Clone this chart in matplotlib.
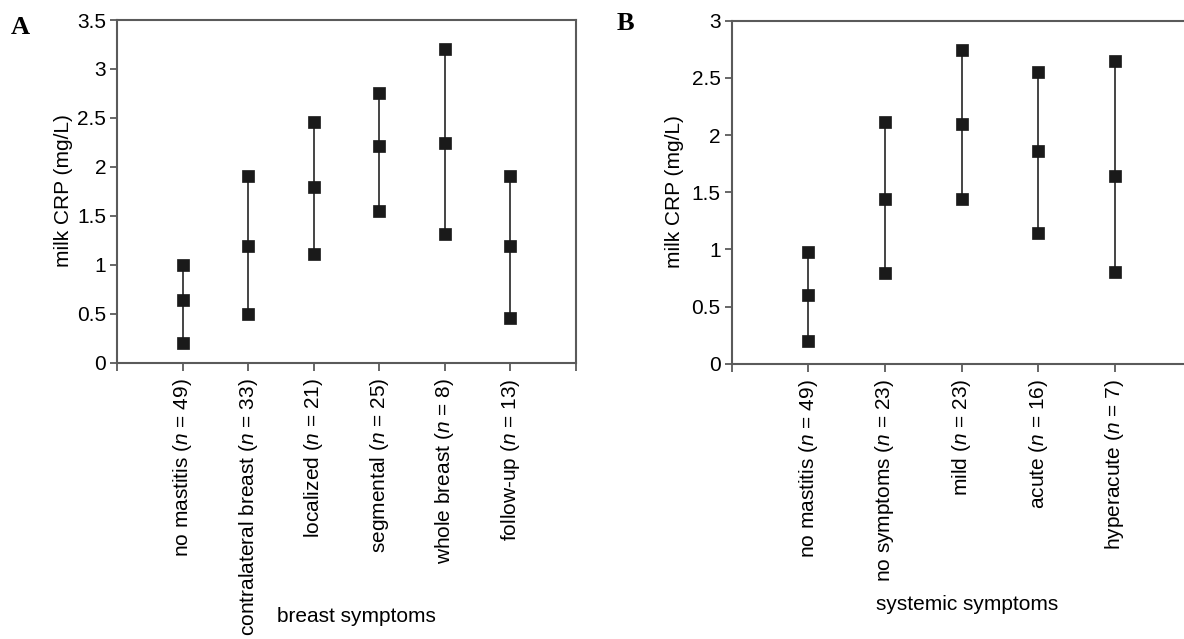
import matplotlib
matplotlib.use("Agg")
import matplotlib.pyplot as plt
from matplotlib.ticker import FuncFormatter

# ---- data ----
cats_a = ["no mastitis", "contralateral breast", "localized", "segmental", "whole breast", "follow-up"]
n_a = [49, 33, 21, 25, 8, 13]
low_a = [0.20, 0.50, 1.11, 1.55, 1.31, 0.46]
mid_a = [0.64, 1.19, 1.79, 2.21, 2.24, 1.19]
high_a = [1.00, 1.91, 2.46, 2.75, 3.20, 1.91]

cats_b = ["no mastitis", "no symptoms", "mild", "acute", "hyperacute"]
n_b = [49, 23, 23, 16, 7]
low_b = [0.20, 0.79, 1.44, 1.14, 0.80]
mid_b = [0.60, 1.44, 2.10, 1.86, 1.64]
high_b = [0.98, 2.11, 2.74, 2.55, 2.65]

yticks_a = [0, 0.5, 1, 1.5, 2, 2.5, 3, 3.5]
yticks_b = [0, 0.5, 1, 1.5, 2, 2.5, 3]

plt.rcParams['font.family'] = ['Liberation Sans', 'DejaVu Sans']
plt.rcParams['mathtext.fontset'] = 'custom'
plt.rcParams['mathtext.it'] = 'Liberation Sans:italic'
plt.rcParams['mathtext.rm'] = 'Liberation Sans'
plt.rcParams['font.size'] = 15

W, H = 1184, 639
fig = plt.figure(figsize=(W / 100, H / 100), dpi=100)

spine_col = '#5a5a5a'
line_col = '#444444'
mk_col = '#1a1a1a'


def panel(rect, cats, ns, low, mid, high, yticks, ymax, xlabel, xlab_pos, letter, letter_pos, ylab_xy):
    ax = fig.add_axes(rect)
    x = list(range(1, len(cats) + 1))
    for xi, lo, mi, hi in zip(x, low, mid, high):
        ax.plot([xi, xi], [lo, hi], color=line_col, lw=1.4, zorder=2)
        ax.plot([xi, xi, xi], [lo, mi, hi], ls='none', marker='s', ms=9,
                mfc=mk_col, mec=mk_col, mew=0.5, zorder=3)
    ax.set_xlim(0, len(cats) + 1)
    ax.set_ylim(0, ymax)
    ax.set_yticks(yticks)
    ax.yaxis.set_major_formatter(FuncFormatter(lambda v, p: f"{v:g}"))
    ax.set_xticks(x)
    ax.set_xticklabels([f"{c} ($n$ = {n})" for c, n in zip(cats, ns)], rotation=90,
                       va='top', ha='center')
    ax.set_xticks([0, len(cats) + 1], minor=True)
    ax.tick_params(axis='x', which='both', direction='out', length=6, width=1.3,
                   color=spine_col, pad=5)
    ax.tick_params(axis='y', direction='out', length=5, width=1.3, color=spine_col, pad=3)
    for s in ax.spines.values():
        s.set_color(spine_col)
        s.set_linewidth(1.5)
    ax.set_ylabel("milk CRP (mg/L)")
    ax.yaxis.set_label_coords(ylab_xy[0] / W, 1 - ylab_xy[1] / H, transform=fig.transFigure)
    fig.text(xlab_pos[0] / W, 1 - xlab_pos[1] / H, xlabel, ha='center', va='center', fontsize=15)
    fig.text(letter_pos[0] / W, 1 - letter_pos[1] / H, letter, ha='center', va='center',
             fontsize=19, fontweight='bold', family='Liberation Serif')
    return ax


axA = panel([117.3 / W, 1 - 362.7 / H, (576 - 117.3) / W, (362.7 - 20) / H],
            cats_a, n_a, low_a, mid_a, high_a, yticks_a, 3.5,
            "breast symptoms", (356, 617), "A", (20, 27), (73, 191))

bl = 731.7
bw = 6 * 76.6
axB = panel([bl / W, 1 - 363.7 / H, bw / W, (363.7 - 20.7) / H],
            cats_b, n_b, low_b, mid_b, high_b, yticks_b, 3,
            "systemic symptoms", (967, 605), "B", (625, 24), (684, 192))

fig.savefig("out.png", dpi=100)
